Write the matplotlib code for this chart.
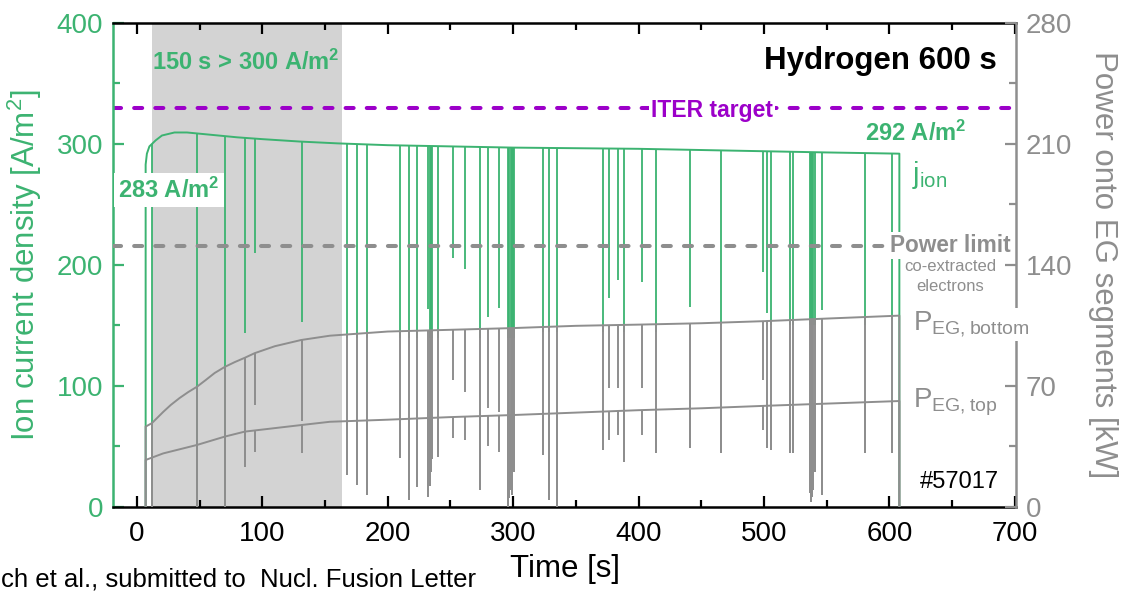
import numpy as np
import matplotlib
matplotlib.use("Agg")
import matplotlib.pyplot as plt
from matplotlib.patches import Polygon
from matplotlib.ticker import MultipleLocator

plt.rcParams['font.family'] = ['Liberation Sans', 'DejaVu Sans']

GREEN = '#3cb371'
GRAY = '#8e8e8e'
PURPLE = '#9c00c9'
SHADE = '#d3d3d3'

# ion current density [A/m^2] (left axis)
t_jion = [7, 7, 8, 10, 15, 20, 30, 40, 60, 80, 100, 130, 160, 200, 250,
          300, 350, 400, 450, 500, 550, 608, 608]
jion = [0, 283, 292, 298, 303, 307, 309.5, 309.5, 307.5, 305.5, 304, 302,
        300.5, 299, 298, 297, 296.5, 296, 295, 294, 293, 292, 0]

# power onto EG segments [kW] (right axis)
t_pbot = [7, 7, 12, 21, 27, 34, 41, 48, 55, 62, 70, 78, 86, 94, 110, 131,
          154, 200, 250, 300, 350, 400, 450, 500, 550, 608, 608]
p_bot = [0, 46.5, 48.5, 55, 59, 63, 66.5, 69.6, 73.5, 77.5, 81, 83.8, 86.3,
         89, 93, 96.6, 99.1, 101.5, 102.5, 103.5, 104.8, 105.5, 106.3, 107.5,
         109, 110.7, 0]
t_ptop = [7, 7, 21, 48, 70, 86, 131, 154, 200, 250, 300, 350, 400, 450,
          500, 550, 608, 608]
p_top = [0, 27.2, 31, 35.9, 40.7, 43.6, 47.4, 49.3, 50.5, 52, 53.2, 54.6,
         56, 57.1, 58.5, 59.8, 61.3, 0]

# breakdowns: time [s], lowest j_ion [A/m^2], lowest P bottom / top [kW]
spike_t = [11.7, 47.6, 70.2, 86.1, 94.1, 131.3, 167.2, 175.2, 183.2, 209.7,
           217.2, 223, 232.5, 233.5, 234.5, 235.5, 240.3, 252.2, 262, 274,
           280, 289, 296, 297, 298, 299, 300, 301, 324, 328.8, 334.7, 371.9,
           376.4, 383.3, 388.6, 402.4, 413.6, 441, 465.5, 499.5, 502.1,
           505.3, 521, 523, 536.5, 537.5, 538.5, 539.5, 540.5, 546, 580.5,
           601.8]
spike_jion = [0, 0, 0, 143.5, 209.6, 153, 140, 140, 140, 140,
              140, 140, 164, 140, 140, 140, 140, 206, 197, 140,
              157, 164.7, 140, 140, 140, 140, 140, 140, 145, 145, 145, 145,
              172.5, 187.6, 145, 186, 145, 165.6, 150, 194, 160,
              150, 150, 150, 150, 150, 150, 150, 150, 163, 150,
              155]
spike_pbot = [0, 0, 0, 23, 59, 50, 18.5, 12.7, 6.9, 28.2,
              4, 11.7, 6, 12, 20, 28, 29, 73.5, 66.7, 10,
              57, 55, 0, 5, 10, 7, 30, 20, 30, 4, 0, 33,
              68.7, 68.7, 26.2, 68.7, 31, 34.3, 31, 73.5, 34,
              33, 31, 31, 8, 3, 6, 10, 20, 7, 31,
              31]
spike_ptop = [0, 0, 0, 23, 32, 31, 18.5, 12.7, 6.9, 28.2,
              4, 11.7, 6, 12, 20, 28, 29, 39.7, 38.8, 10,
              35, 32, 0, 5, 10, 7, 30, 20, 30, 4, 0, 33,
              38.8, 41.7, 26.2, 41.7, 31, 34.3, 31, 44.5, 34,
              33, 31, 31, 8, 3, 6, 10, 20, 7, 31,
              31]

ITER_TARGET = 330      # A/m^2
POWER_LIMIT = 151      # kW
HIGH_START, HIGH_END = 11.7, 163.3

fig = plt.figure(figsize=(11.27, 5.92), dpi=100)
ax = fig.add_axes([0.1003, 0.1436, 0.8012, 0.8176])
ax2 = ax.twinx()

ax.set_xlim(-19, 701)
ax.set_ylim(0, 400)
ax2.set_ylim(0, 280)

# shaded period above 300 A/m^2 and the ITER target
ax.axvspan(HIGH_START, HIGH_END, color=SHADE, lw=0, zorder=0.5)
ax.axhline(ITER_TARGET, color=PURPLE, lw=2.9, dashes=(2, 3.25),
           dash_capstyle='round', zorder=2)

# j_ion trace with its breakdown dips, dips clipped under the trace
ax.plot(t_jion, jion, color=GREEN, lw=1.4, zorder=3)
clip_j = Polygon(np.column_stack([t_jion, jion]), closed=True,
                 transform=ax.transData)
lc = ax.vlines(spike_t, spike_jion, 400, colors=GREEN, lw=1.3, zorder=3)
lc.set_clip_path(clip_j)

# power traces
ax2.axhline(POWER_LIMIT, color=GRAY, lw=2.9, dashes=(2, 3.25),
            dash_capstyle='round', zorder=2)
for tt, pp, lows in [(t_pbot, p_bot, spike_pbot), (t_ptop, p_top, spike_ptop)]:
    ax2.plot(tt, pp, color=GRAY, lw=1.4, zorder=3)
    clip_p = Polygon(np.column_stack([tt, pp]), closed=True,
                     transform=ax2.transData)
    lcp = ax2.vlines(spike_t, lows, 280, colors=GRAY, lw=1.4, zorder=3)
    lcp.set_clip_path(clip_p)

# axes styling
for a in (ax, ax2):
    for s in a.spines.values():
        s.set_linewidth(1.8)
ax.spines['left'].set_color(GREEN)
ax.spines['right'].set_visible(False)
ax.spines['top'].set_color('black')
ax.spines['bottom'].set_color('black')
ax2.spines['right'].set_color(GRAY)
ax2.spines['left'].set_visible(False)
ax2.spines['top'].set_visible(False)
ax2.spines['bottom'].set_visible(False)

ax.xaxis.set_major_locator(MultipleLocator(100))
ax.xaxis.set_minor_locator(MultipleLocator(50))
ax.yaxis.set_major_locator(MultipleLocator(100))
ax.yaxis.set_minor_locator(MultipleLocator(50))
ax2.yaxis.set_major_locator(MultipleLocator(70))
ax2.yaxis.set_minor_locator(MultipleLocator(35))

ax.tick_params(axis='x', which='both', direction='in', top=True, bottom=True,
               colors='black', labelsize=20, width=1.6, pad=10)
ax.tick_params(axis='y', which='both', direction='in', left=True, right=False,
               colors=GREEN, labelsize=20, width=1.6, pad=7)
ax2.tick_params(axis='y', which='both', direction='in', colors=GRAY,
                labelsize=20, width=1.6, pad=7)
for a in (ax, ax2):
    a.tick_params(which='major', length=8)
    a.tick_params(which='minor', length=5)

ax.set_xlabel('Time [s]', fontsize=22.5, color='black')
ax.xaxis.set_label_coords(0.5, -0.128)
ax.xaxis.label.set_va('center')
ax.set_ylabel(r'Ion current density [A/m$\mathregular{^2}$]', fontsize=22.5,
              color=GREEN)
ax.yaxis.set_label_coords(-0.098, 0.5)
ax.yaxis.label.set_va('center')
ax2.set_ylabel('Power onto EG segments [kW]', fontsize=22.5, color=GRAY,
               rotation=270)
ax2.yaxis.set_label_coords(1.096, 0.5)
ax2.yaxis.label.set_va('center')

# annotations
ax.text(87, 361, r'150 s > 300 A/m$\mathregular{^2}$', color=GREEN,
        fontsize=17, fontweight='bold', ha='center', va='baseline', zorder=5)
ax.text(686, 362, 'Hydrogen 600 s', color='black', fontsize=22.5,
        fontweight='bold', ha='right', va='baseline', zorder=5)
ax.text(458.5, 322.3, 'ITER target', color=PURPLE, fontsize=16.5,
        fontweight='bold', ha='center', va='baseline', zorder=5,
        bbox=dict(fc='white', ec='none', pad=1.5))
ax.text(621, 302.5, r'292 A/m$\mathregular{^2}$', color=GREEN, fontsize=17,
        fontweight='bold', ha='center', va='baseline', zorder=5)
ax.text(-15.2, 255.4, r'283 A/m$\mathregular{^2}$', color=GREEN, fontsize=17,
        fontweight='bold', ha='left', va='baseline', zorder=5,
        bbox=dict(fc='white', ec='none', pad=3))
ax.text(618, 267.8, r'$\mathregular{j_{ion}}$', color=GREEN, fontsize=21,
        ha='left', va='baseline', zorder=5)

ax2.text(648.3, 147.5, 'Power limit', color=GRAY, fontsize=16.3,
         fontweight='bold', ha='center', va='baseline', zorder=5,
         bbox=dict(fc='white', ec='none', pad=1.5))
ax2.text(648.3, 136.8, 'co-extracted', color=GRAY, fontsize=12,
         ha='center', va='baseline', zorder=5)
ax2.text(648.3, 125, 'electrons', color=GRAY, fontsize=12,
         ha='center', va='baseline', zorder=5)
ax2.text(618.5, 102.2, r'$\mathregular{P_{EG,bottom}}$', color=GRAY,
         fontsize=20, ha='left', va='baseline', zorder=5,
         bbox=dict(fc='white', ec='none', pad=1.5))
ax2.text(618.5, 57.4, r'$\mathregular{P_{EG,top}}$', color=GRAY,
         fontsize=20, ha='left', va='baseline', zorder=5,
         bbox=dict(fc='white', ec='none', pad=1.5))
ax2.text(624, 11.2, '#57017', color='black', fontsize=17,
         ha='left', va='baseline', zorder=5,
         bbox=dict(fc='white', ec='none', pad=2))

fig.text(0.001, 0.0085, 'ch et al., submitted to  Nucl. Fusion Letter',
         fontsize=18.5, color='black', ha='left', va='baseline')

fig.savefig('out.png', dpi=100)
